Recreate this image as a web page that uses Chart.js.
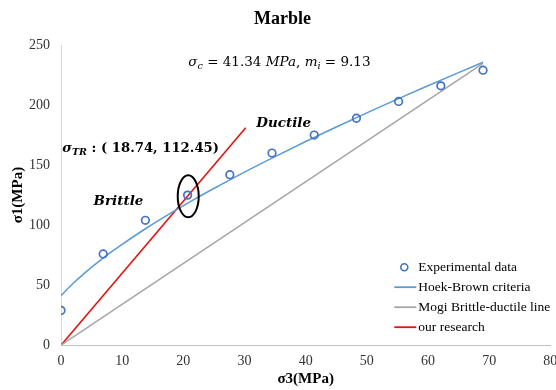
<!DOCTYPE html>
<html>
<head>
<meta charset="utf-8">
<script src="https://cdn.jsdelivr.net/npm/chart.js@4/dist/chart.umd.min.js"></script>
<style>
  html, body { margin: 0; padding: 0; background: #fff; overflow: hidden; }
  #wrap { width: 556px; height: 390px; }
</style>
</head>
<body>
<div id="wrap"><canvas id="marbleChart"></canvas></div>
<script>
// experimental points (sigma3, sigma1)
const expX = [0, 6.9, 13.8, 20.7, 27.6, 34.5, 41.4, 48.3, 55.2, 62.1, 69];
const expY = [29, 76, 104, 125, 142, 160, 175, 189, 203, 216, 229];

// Hoek-Brown curve
const hbX = [0, 2, 4, 6, 8, 10, 14, 18, 22, 26, 30, 35, 40, 45, 50, 55, 60, 65, 69];
const hbY = [41.3, 51.6, 60.7, 69.0, 76.8, 84.0, 97.6, 110.2, 122.1, 133.3, 144.2, 157.1, 169.6, 181.7, 193.5, 204.9, 216.1, 227.0, 235.6];

// Mogi brittle-ductile line
const mogiX = [0, 69];
const mogiY = [0, 234.6];

// our research line
const ourX = [0, 30.2];
const ourY = [0, 181];

const seriesNames = ['Experimental data', 'Hoek-Brown criteria', 'Mogi Brittle-ductile line', 'our research'];
const xTicks = [0, 10, 20, 30, 40, 50, 60, 70, 80];
const yTicks = [0, 50, 100, 150, 200, 250];

const pts = (xs, ys) => xs.map((x, i) => ({ x: x, y: ys[i] }));

const SERIF = '"Liberation Serif", "Times New Roman", serif';
const MATH = '"DejaVu Serif", serif';

// draws a row of text pieces, some italic / bold / subscripted
function richText(ctx, runs, x, y, size, align) {
  const fontOf = r => (r.i ? 'italic ' : '') + (r.b ? 'bold ' : '') + (r.sub ? size * 0.72 : size) + 'px ' + MATH;
  let total = 0;
  runs.forEach(r => { ctx.font = fontOf(r); total += ctx.measureText(r.t).width; });
  let cx = align === 'center' ? x - total / 2 : x;
  ctx.textBaseline = 'middle';
  ctx.textAlign = 'left';
  runs.forEach(r => {
    ctx.font = fontOf(r);
    ctx.fillText(r.t, cx, r.sub ? y + size * 0.28 : y);
    cx += ctx.measureText(r.t).width;
  });
}

const notes = {
  id: 'notes',
  afterDatasetsDraw(chart) {
    const ctx = chart.ctx;
    const xs = chart.scales.x, ys = chart.scales.y;
    ctx.save();
    ctx.fillStyle = '#000';

    richText(ctx, [
      { t: 'σ', i: 1 }, { t: 'c', i: 1, sub: 1 }, { t: ' = 41.34 ' }, { t: 'MPa', i: 1 },
      { t: ', ' }, { t: 'm', i: 1 }, { t: 'i', i: 1, sub: 1 }, { t: ' = 9.13' }
    ], xs.getPixelForValue(35.7), ys.getPixelForValue(235.5), 13.5, 'center');

    richText(ctx, [{ t: 'Ductile', i: 1, b: 1 }], xs.getPixelForValue(36.4), ys.getPixelForValue(184.5), 13.5, 'center');
    richText(ctx, [{ t: 'Brittle', i: 1, b: 1 }], xs.getPixelForValue(9.4), ys.getPixelForValue(120), 13.5, 'center');
    richText(ctx, [
      { t: 'σ', i: 1, b: 1 }, { t: 'TR', i: 1, b: 1, sub: 1 }, { t: ' : ( 18.74, 112.45)', b: 1 }
    ], xs.getPixelForValue(0.2), ys.getPixelForValue(163.5), 13.2, 'left');

    // ellipse round the transition point
    ctx.beginPath();
    ctx.ellipse(xs.getPixelForValue(20.8), ys.getPixelForValue(124), 10.5, 21, 0, 0, Math.PI * 2);
    ctx.strokeStyle = '#000';
    ctx.lineWidth = 2;
    ctx.stroke();

    // legend inside the plot, bottom right
    const lx = chart.chartArea.right - 156;
    let ly = chart.chartArea.bottom - 78;
    chart.data.datasets.forEach(ds => {
      if (ds.showLine === false) {
        ctx.beginPath();
        ctx.arc(lx + 10, ly, 3.5, 0, Math.PI * 2);
        ctx.strokeStyle = ds.borderColor;
        ctx.lineWidth = 1.6;
        ctx.stroke();
      } else {
        ctx.beginPath();
        ctx.moveTo(lx, ly);
        ctx.lineTo(lx + 22, ly);
        ctx.strokeStyle = ds.borderColor;
        ctx.lineWidth = 1.8;
        ctx.stroke();
      }
      ctx.fillStyle = '#000';
      ctx.font = '13.5px ' + SERIF;
      ctx.textBaseline = 'middle';
      ctx.fillText(ds.label, lx + 24, ly);
      ly += 20;
    });
    ctx.restore();
  }
};

const chart = new Chart(document.getElementById('marbleChart').getContext('2d'), {
  type: 'scatter',
  data: {
    datasets: [{
      label: seriesNames[0],
      data: pts(expX, expY),
      showLine: false,
      borderColor: '#4472C4',
      backgroundColor: 'rgba(0,0,0,0)',
      borderWidth: 1.7,
      pointRadius: 3.8
    }, {
      label: seriesNames[1],
      data: pts(hbX, hbY),
      showLine: true,
      borderColor: '#5B9BD5',
      borderWidth: 1.5,
      pointRadius: 0,
      cubicInterpolationMode: 'monotone'
    }, {
      label: seriesNames[2],
      data: pts(mogiX, mogiY),
      showLine: true,
      borderColor: '#A5A5A5',
      borderWidth: 1.5,
      pointRadius: 0
    }, {
      label: seriesNames[3],
      data: pts(ourX, ourY),
      showLine: true,
      borderColor: '#E3140F',
      borderWidth: 1.6,
      pointRadius: 0
    }]
  },
  options: {
    responsive: true,
    maintainAspectRatio: false,
    animation: false,
    layout: { padding: { top: 4, left: 9, right: 0, bottom: 2 } },
    plugins: {
      legend: { display: false },
      tooltip: { enabled: false },
      title: {
        display: true,
        text: 'Marble',
        color: '#000',
        font: { family: SERIF, size: 18, weight: 'bold' },
        padding: { top: 5, bottom: 14.4 }
      }
    },
    scales: {
      x: {
        type: 'linear',
        min: xTicks[0],
        max: xTicks[xTicks.length - 1],
        afterBuildTicks: s => { s.ticks = xTicks.map(v => ({ value: v })); },
        // chart.js reserves the tick padding twice; let the 80 run off the edge like the original
        afterFit: s => { s.paddingRight = 0; s.height -= 8; },
        grid: { display: false, drawTicks: false },
        border: { display: true, color: '#BFBFBF', width: 1 },
        ticks: { color: '#333', padding: 8, font: { family: SERIF, size: 14 } },
        title: { display: true, text: 'σ3(MPa)', color: '#000', padding: { top: 0, bottom: 0 },
                 font: { family: SERIF, size: 15, weight: 'bold' } }
      },
      y: {
        type: 'linear',
        min: yTicks[0],
        max: yTicks[yTicks.length - 1],
        afterBuildTicks: s => { s.ticks = yTicks.map(v => ({ value: v })); },
        afterFit: s => { s.width -= 11; },
        grid: { display: false, drawTicks: false },
        border: { display: true, color: '#D9D9D9', width: 1 },
        ticks: { color: '#333', padding: 11, font: { family: SERIF, size: 14 } },
        title: { display: true, text: 'σ1(MPa)', color: '#000', padding: { top: 0, bottom: 2 },
                 font: { family: SERIF, size: 15, weight: 'bold' } }
      }
    }
  },
  plugins: [notes]
});
</script>
</body>
</html>
